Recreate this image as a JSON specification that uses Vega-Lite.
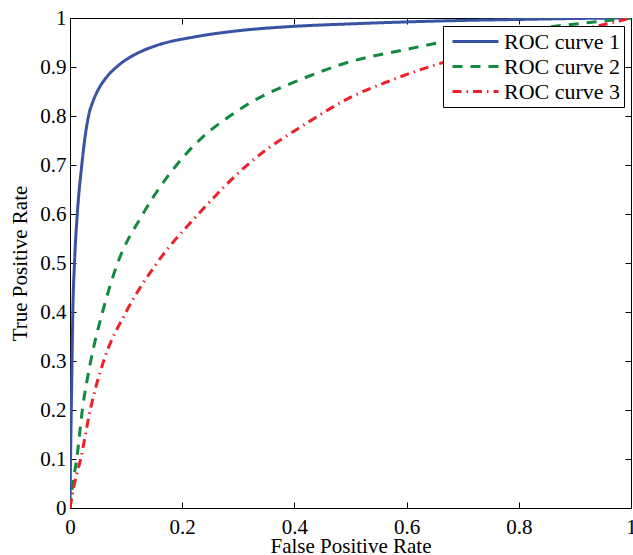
{
  "$schema": "https://vega.github.io/schema/vega-lite/v6.json",
  "width": 561,
  "height": 490,
  "autosize": {"type": "none"},
  "padding": {"left": 70, "top": 18, "right": 2, "bottom": 47},
  "background": "white",
  "config": {
    "view": {"stroke": "black", "strokeWidth": 1},
    "font": "Liberation Serif, Times New Roman, Times, serif",
    "axis": {
      "grid": false,
      "domain": false,
      "tickColor": "black",
      "tickSize": -6,
      "tickWidth": 1,
      "labelFont": "Liberation Serif, Times New Roman, Times, serif",
      "labelFontSize": 21,
      "labelColor": "black",
      "labelFlush": false,
      "labelOverlap": false,
      "format": "~g",
      "titleFont": "Liberation Serif, Times New Roman, Times, serif",
      "titleFontSize": 21,
      "titleFontWeight": "normal",
      "titleColor": "black"
    },
    "legend": {
      "labelFont": "Liberation Serif, Times New Roman, Times, serif",
      "labelFontSize": 22,
      "labelColor": "black"
    }
  },
  "data": {
    "values": [
      {"series": "ROC curve 1", "fpr": 0.0, "tpr": 0.0},
      {"series": "ROC curve 1", "fpr": 0.001, "tpr": 0.1},
      {"series": "ROC curve 1", "fpr": 0.003, "tpr": 0.25},
      {"series": "ROC curve 1", "fpr": 0.005, "tpr": 0.4},
      {"series": "ROC curve 1", "fpr": 0.008, "tpr": 0.5},
      {"series": "ROC curve 1", "fpr": 0.013, "tpr": 0.6},
      {"series": "ROC curve 1", "fpr": 0.021, "tpr": 0.7},
      {"series": "ROC curve 1", "fpr": 0.026, "tpr": 0.75},
      {"series": "ROC curve 1", "fpr": 0.033, "tpr": 0.8},
      {"series": "ROC curve 1", "fpr": 0.041, "tpr": 0.83},
      {"series": "ROC curve 1", "fpr": 0.05, "tpr": 0.853},
      {"series": "ROC curve 1", "fpr": 0.065, "tpr": 0.879},
      {"series": "ROC curve 1", "fpr": 0.083, "tpr": 0.9},
      {"series": "ROC curve 1", "fpr": 0.1, "tpr": 0.915},
      {"series": "ROC curve 1", "fpr": 0.12, "tpr": 0.928},
      {"series": "ROC curve 1", "fpr": 0.16, "tpr": 0.946},
      {"series": "ROC curve 1", "fpr": 0.22, "tpr": 0.961},
      {"series": "ROC curve 1", "fpr": 0.3, "tpr": 0.974},
      {"series": "ROC curve 1", "fpr": 0.4, "tpr": 0.983},
      {"series": "ROC curve 1", "fpr": 0.5, "tpr": 0.988},
      {"series": "ROC curve 1", "fpr": 0.6, "tpr": 0.992},
      {"series": "ROC curve 1", "fpr": 0.7, "tpr": 0.995},
      {"series": "ROC curve 1", "fpr": 0.8, "tpr": 0.997},
      {"series": "ROC curve 1", "fpr": 0.9, "tpr": 0.999},
      {"series": "ROC curve 1", "fpr": 1.0, "tpr": 1.0},
      {"series": "ROC curve 2", "fpr": 0.0, "tpr": 0.0},
      {"series": "ROC curve 2", "fpr": 0.005, "tpr": 0.05},
      {"series": "ROC curve 2", "fpr": 0.012, "tpr": 0.1},
      {"series": "ROC curve 2", "fpr": 0.022, "tpr": 0.2},
      {"series": "ROC curve 2", "fpr": 0.037, "tpr": 0.3},
      {"series": "ROC curve 2", "fpr": 0.058, "tpr": 0.4},
      {"series": "ROC curve 2", "fpr": 0.085, "tpr": 0.5},
      {"series": "ROC curve 2", "fpr": 0.13, "tpr": 0.6},
      {"series": "ROC curve 2", "fpr": 0.19, "tpr": 0.7},
      {"series": "ROC curve 2", "fpr": 0.23, "tpr": 0.75},
      {"series": "ROC curve 2", "fpr": 0.285, "tpr": 0.8},
      {"series": "ROC curve 2", "fpr": 0.32, "tpr": 0.826},
      {"series": "ROC curve 2", "fpr": 0.41, "tpr": 0.874},
      {"series": "ROC curve 2", "fpr": 0.5, "tpr": 0.911},
      {"series": "ROC curve 2", "fpr": 0.6, "tpr": 0.936},
      {"series": "ROC curve 2", "fpr": 0.66, "tpr": 0.95},
      {"series": "ROC curve 2", "fpr": 0.75, "tpr": 0.967},
      {"series": "ROC curve 2", "fpr": 0.84, "tpr": 0.98},
      {"series": "ROC curve 2", "fpr": 0.92, "tpr": 0.99},
      {"series": "ROC curve 2", "fpr": 1.0, "tpr": 1.0},
      {"series": "ROC curve 3", "fpr": 0.0, "tpr": 0.0},
      {"series": "ROC curve 3", "fpr": 0.008, "tpr": 0.05},
      {"series": "ROC curve 3", "fpr": 0.019, "tpr": 0.1},
      {"series": "ROC curve 3", "fpr": 0.036, "tpr": 0.2},
      {"series": "ROC curve 3", "fpr": 0.06, "tpr": 0.3},
      {"series": "ROC curve 3", "fpr": 0.1, "tpr": 0.4},
      {"series": "ROC curve 3", "fpr": 0.155, "tpr": 0.5},
      {"series": "ROC curve 3", "fpr": 0.229, "tpr": 0.6},
      {"series": "ROC curve 3", "fpr": 0.32, "tpr": 0.704},
      {"series": "ROC curve 3", "fpr": 0.427, "tpr": 0.789},
      {"series": "ROC curve 3", "fpr": 0.498, "tpr": 0.837},
      {"series": "ROC curve 3", "fpr": 0.575, "tpr": 0.874},
      {"series": "ROC curve 3", "fpr": 0.653, "tpr": 0.905},
      {"series": "ROC curve 3", "fpr": 0.75, "tpr": 0.935},
      {"series": "ROC curve 3", "fpr": 0.85, "tpr": 0.962},
      {"series": "ROC curve 3", "fpr": 0.93, "tpr": 0.981},
      {"series": "ROC curve 3", "fpr": 1.0, "tpr": 1.0}
    ]
  },
  "layer": [
    {
      "mark": {"type": "line", "strokeWidth": 3, "clip": true, "interpolate": "monotone"},
      "encoding": {
        "x": {
          "field": "fpr", "type": "quantitative",
          "scale": {"domain": [0, 1], "nice": false},
          "axis": {"orient": "bottom", "values": [0, 0.2, 0.4, 0.6, 0.8, 1], "title": "False Positive Rate", "labelPadding": 14, "titleY": 44, "titleBaseline": "alphabetic"}
        },
        "y": {
          "field": "tpr", "type": "quantitative",
          "scale": {"domain": [0, 1], "nice": false},
          "axis": {"orient": "left", "values": [0, 0.1, 0.2, 0.3, 0.4, 0.5, 0.6, 0.7, 0.8, 0.9, 1], "title": "True Positive Rate", "labelPadding": 10, "titleX": -44, "titleBaseline": "alphabetic"}
        },
        "color": {
          "field": "series", "type": "nominal",
          "scale": {"domain": ["ROC curve 1", "ROC curve 2", "ROC curve 3"], "range": ["#3953a4", "#11893f", "#ec2129"]},
          "legend": {
            "title": null,
            "orient": "none",
            "legendX": 373,
            "legendY": 8,
            "fillColor": "white",
            "strokeColor": "black",
            "padding": 3,
            "symbolOffset": 5,
            "symbolType": "stroke",
            "symbolSize": 2116,
            "symbolStrokeWidth": 3,
            "clipHeight": 25,
            "rowPadding": 0,
            "labelOffset": 4
          }
        },
        "strokeDash": {
          "field": "series", "type": "nominal",
          "scale": {"domain": ["ROC curve 1", "ROC curve 2", "ROC curve 3"], "range": [[1, 0], [10, 8], [9, 5, 1.5, 5]]},
          "legend": {
            "title": null,
            "orient": "none",
            "legendX": 373,
            "legendY": 8,
            "fillColor": "white",
            "strokeColor": "black",
            "padding": 3,
            "symbolOffset": 5,
            "symbolType": "stroke",
            "symbolSize": 2116,
            "symbolStrokeWidth": 3,
            "clipHeight": 25,
            "rowPadding": 0,
            "labelOffset": 4
          }
        }
      }
    },
    {
      "mark": {"type": "point", "opacity": 0},
      "encoding": {
        "x": {
          "field": "fpr", "type": "quantitative",
          "scale": {"domain": [0, 1], "nice": false},
          "axis": {"orient": "top", "values": [0, 0.2, 0.4, 0.6, 0.8, 1], "labels": false, "title": null}
        },
        "y": {
          "field": "tpr", "type": "quantitative",
          "scale": {"domain": [0, 1], "nice": false},
          "axis": {"orient": "right", "values": [0, 0.1, 0.2, 0.3, 0.4, 0.5, 0.6, 0.7, 0.8, 0.9, 1], "labels": false, "title": null}
        }
      }
    }
  ],
  "resolve": {"axis": {"x": "independent", "y": "independent"}}
}
